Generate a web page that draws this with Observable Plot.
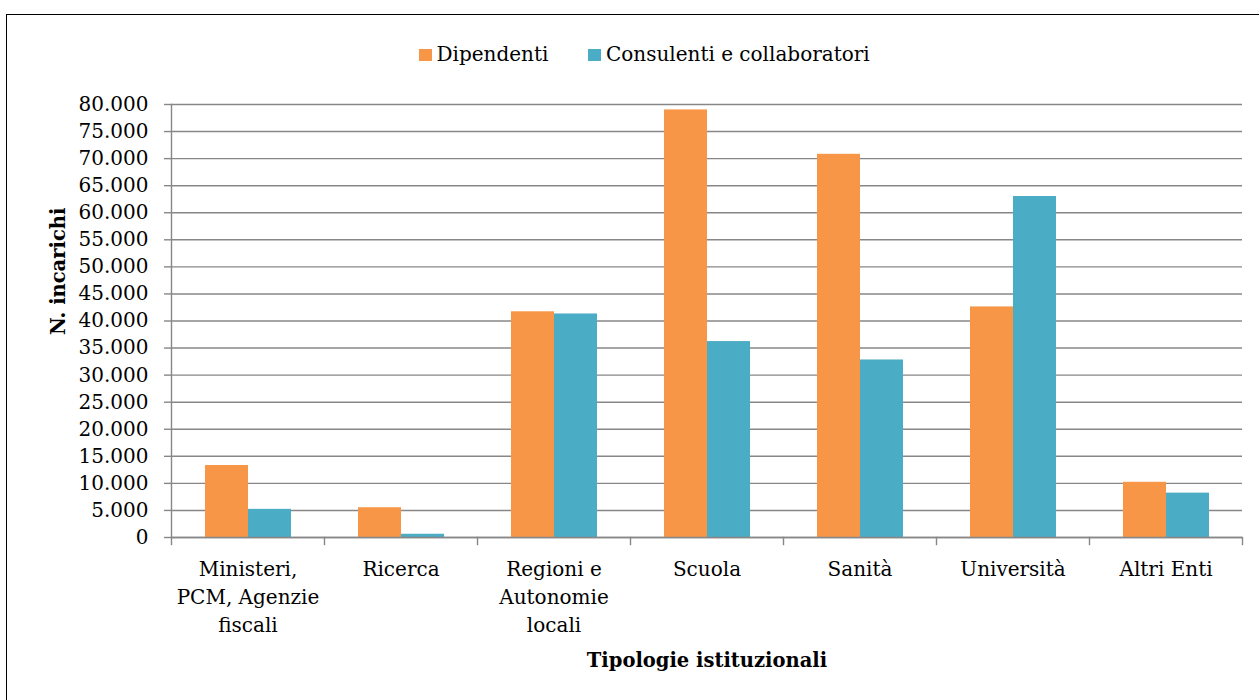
<!DOCTYPE html>
<html>
<head>
<meta charset="utf-8">
<script src="https://cdn.jsdelivr.net/npm/d3@7"></script>
<script src="https://cdn.jsdelivr.net/npm/@observablehq/plot@0.6"></script>
<style>
  body { margin: 0; background: #fff; }
  #wrap { position: relative; width: 1259px; height: 700px; overflow: hidden; font-family: "DejaVu Serif", serif; }
  #border { position: absolute; left: 6px; top: 14px; width: 1320px; height: 800px; border: 1.6px solid #000; box-sizing: border-box; }
  #chart { position: absolute; left: 0; top: 0; }
  #legend { position: absolute; left: 419px; top: 42px; display: flex; align-items: center; font-size: 20px; color: #000; white-space: nowrap; }
  .item { display: flex; align-items: center; }
  .sw { width: 12.5px; height: 12.5px; margin-right: 5px; margin-top: 2px; }
  .item + .item { margin-left: 40px; }
</style>
</head>
<body>
<div id="wrap">
  <div id="border"></div>
  <div id="chart"></div>
  <div id="legend"></div>
</div>
<script>
const categories = ["Ministeri, PCM, Agenzie fiscali", "Ricerca", "Regioni e Autonomie locali", "Scuola", "Sanità", "Università", "Altri Enti"];
const tickLabels = ["Ministeri,\nPCM, Agenzie\nfiscali", "Ricerca", "Regioni e\nAutonomie\nlocali", "Scuola", "Sanità", "Università", "Altri Enti"];
const series = ["Dipendenti", "Consulenti e collaboratori"];
const dipendenti = [13300, 5500, 41700, 79000, 70800, 42600, 10200];
const consulenti = [5200, 600, 41300, 36200, 32800, 63000, 8200];
const yTicks = [0, 5000, 10000, 15000, 20000, 25000, 30000, 35000, 40000, 45000, 50000, 55000, 60000, 65000, 70000, 75000, 80000];
const colors = ["#F79646", "#4BACC6"];
const yLabel = "N. incarichi";
const xLabel = "Tipologie istituzionali";

const data = categories.flatMap((c, i) => [
  {category: c, series: series[0], value: dipendenti[i]},
  {category: c, series: series[1], value: consulenti[i]}
]);

const itFmt = d3.formatLocale({decimal: ",", thousands: ".", grouping: [3], currency: ["€", ""]}).format(",");

const W = 1259, H = 700, mL = 170, mR = 16, mT = 104, mB = 163;
const plotH = H - mT - mB;
const grey = "#878787";
const fs = 20;

const chart = Plot.plot({
  width: W, height: H,
  marginLeft: mL, marginRight: mR, marginTop: mT, marginBottom: mB,
  style: {fontFamily: "DejaVu Serif, serif", fontSize: fs + "px", color: "#000", background: "transparent", overflow: "visible"},
  fx: {domain: categories, padding: 0, label: null},
  x: {domain: series, paddingInner: 0, paddingOuter: 0.754, axis: null},
  y: {domain: [0, 80000], label: null},
  color: {domain: series, range: colors},
  marks: [
    Plot.gridY(yTicks, {stroke: grey, strokeOpacity: 1, strokeWidth: 1.4}),
    Plot.barY(data, {fx: "category", x: "series", y: "value", fill: "series"}),
    Plot.ruleY([0], {stroke: grey, strokeWidth: 1.4}),
    Plot.frame({anchor: "left", facetAnchor: "left", stroke: grey, strokeWidth: 1.4}),
    Plot.frame({anchor: "left", stroke: grey, strokeWidth: 1.4, insetTop: plotH, insetBottom: -7}),
    Plot.frame({anchor: "right", facetAnchor: "right", stroke: grey, strokeWidth: 1.4, insetTop: plotH, insetBottom: -7}),
    Plot.axisY(yTicks, {tickSize: 7, tickPadding: 16, stroke: grey, strokeWidth: 1.4, fill: "#000", tickFormat: itFmt, label: null, fontSize: fs}),
    Plot.axisFx({anchor: "bottom", tickSize: 0, tickPadding: 19, tickFormat: d => tickLabels[categories.indexOf(d)], lineHeight: 1.4, label: null, fill: "#000", fontSize: fs}),
    Plot.text([yLabel], {facet: "super", frameAnchor: "left", dx: -113, dy: 14, rotate: -90, fontWeight: "bold", fontSize: 19.5, fill: "#000"}),
    Plot.text([xLabel], {facet: "super", frameAnchor: "bottom", dy: 129, fontWeight: "bold", fontSize: 19.5, fill: "#000"})
  ]
});
document.getElementById("chart").appendChild(chart);

const legend = document.getElementById("legend");
series.forEach((s, i) => {
  const item = document.createElement("div");
  item.className = "item";
  const sw = document.createElement("span");
  sw.className = "sw";
  sw.style.background = colors[i];
  const t = document.createElement("span");
  t.textContent = s;
  item.appendChild(sw);
  item.appendChild(t);
  legend.appendChild(item);
});
</script>
</body>
</html>
